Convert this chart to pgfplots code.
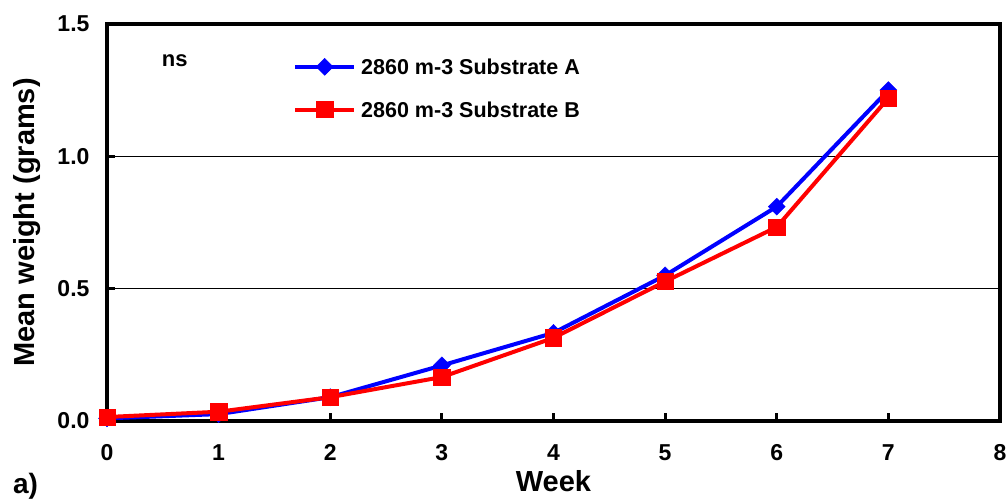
\documentclass[border=0pt]{standalone}
\usepackage{fontspec}
\setmainfont{Liberation Sans}
\usepackage{pgfplots}
\pgfplotsset{compat=1.18}
\definecolor{serA}{RGB}{0,0,255}
\definecolor{serB}{RGB}{255,0,0}
\begin{document}
\begin{tikzpicture}
\begin{axis}[
  name=ax,
  scale only axis,
  width=893pt, height=397pt,
  xmin=0, xmax=8, ymin=0, ymax=1.5,
  xtick={0,1,2,3,4,5,6,7,8},
  ytick={0,0.5,1.0,1.5},
  clip=false,
  axis line style={line width=3.8pt, black},
  tickpos=left, tick align=inside,
  major tick length=8pt,
  tick style={line width=3pt, black},
  ymajorgrids,
  grid style={line width=1.6pt, black},
  /pgf/number format/assume math mode=true,
  yticklabel style={/pgf/number format/fixed, /pgf/number format/fixed zerofill, /pgf/number format/precision=1, xshift=-14pt},
  ticklabel style={font=\bfseries\fontsize{23}{23}\selectfont},
  xticklabel style={yshift=-20pt},
  xlabel={Week},
  ylabel={Mean weight (grams)},
  label style={font=\bfseries\fontsize{29}{29}\selectfont},
  xlabel style={at={(axis description cs:0.5,-0.151)}, anchor=center, inner sep=0pt},
  ylabel style={at={(axis description cs:-0.089,0.5)}, anchor=center},
  legend style={at={(axis description cs:0.2083,0.914)}, anchor=north west,
    draw=none, fill=none, inner sep=0pt,
    font=\bfseries\fontsize{21.5}{21.5}\selectfont,
    nodes={inner sep=0pt, text height=15.5pt, text depth=0pt},
    row sep=26pt, column sep=5pt},
  legend cell align=left,
  legend image code/.code={\draw[#1, mark repeat=2, mark phase=2] plot coordinates {(0pt,0pt) (29.5pt,0pt) (59pt,0pt)};},
]
\addplot[color=serA, line width=4pt, mark=square*, mark size=6pt,
  mark options={rotate=45, line width=0.5pt, fill=serA}]
  coordinates {(0,0.01) (1,0.026) (2,0.09) (3,0.21) (4,0.333) (5,0.55) (6,0.81) (7,1.25)};
\addlegendentry{2860 m-3 Substrate A}
\addplot[color=serB, line width=4pt, mark=square*, mark size=8.2pt,
  mark options={line width=0.5pt, fill=serB}]
  coordinates {(0,0.015) (1,0.035) (2,0.09) (3,0.166) (4,0.314) (5,0.527) (6,0.733) (7,1.22)};
\addlegendentry{2860 m-3 Substrate B}
\node[anchor=base west, inner sep=0pt, font=\bfseries\fontsize{22}{22}\selectfont] at (axis cs:0.49,1.341) {ns};
\node[anchor=base west, inner sep=0pt, font=\bfseries\fontsize{28}{28}\selectfont] at (axis description cs:-0.1053,-0.1814) {a)};
\end{axis}
\pgfresetboundingbox
\useasboundingbox ([shift={(-107pt,-78pt)}]ax.south west) rectangle ([shift={(7pt,24pt)}]ax.north east);
\end{tikzpicture}
\end{document}
